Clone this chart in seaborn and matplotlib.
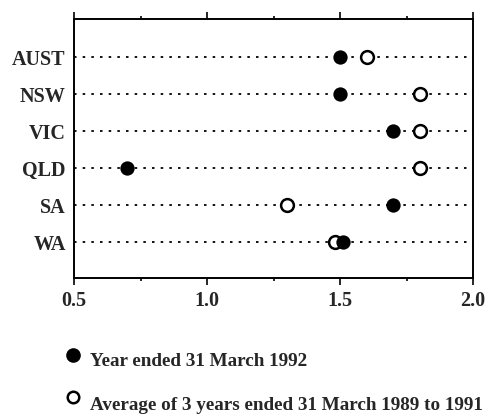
import matplotlib
matplotlib.use("Agg")
import matplotlib.pyplot as plt
from matplotlib.lines import Line2D
from matplotlib.ticker import MultipleLocator
import seaborn as sns
import pandas as pd

states = ["AUST", "NSW", "VIC", "QLD", "SA", "WA"]
year_1992 = [1.5, 1.5, 1.7, 0.7, 1.7, 1.51]
avg_89_91 = [1.6, 1.8, 1.8, 1.8, 1.3, 1.48]
label_1992 = "Year ended 31 March 1992"
label_avg = "Average of 3 years ended 31 March 1989 to 1991"
xticks = [0.5, 1.0, 1.5, 2.0]

sns.set_theme(style="white")
plt.rcParams["font.family"] = ["Liberation Serif", "DejaVu Serif"]
plt.rcParams["font.weight"] = "bold"

df = pd.DataFrame({"state": states, "y1992": year_1992, "avg": avg_89_91})

W, H = 488, 415
fig = plt.figure(figsize=(W / 100, H / 100), dpi=100)
ax = fig.add_axes([74 / W, 1 - 278 / H, (473 - 74) / W, (278 - 19) / H])

# dotted guide lines
ax.hlines(range(len(states)), 0.5, 2.0, colors="black", linestyles=(0, (1.4, 3.4)),
          linewidth=1.3, zorder=1)

sns.stripplot(data=df, x="avg", y="state", order=states, jitter=False, ax=ax,
              color="white", edgecolor="black", linewidth=1.8, size=9.2, zorder=3)
sns.stripplot(data=df, x="y1992", y="state", order=states, jitter=False, ax=ax,
              color="black", edgecolor="black", linewidth=0, size=10.3, zorder=4)

ax.set_xlim(0.5, 2.0)
ax.set_ylim(len(states) - 1 + 0.97, -1.03)
ax.set_xlabel("")
ax.set_ylabel("")
ax.set_xticks(xticks)
ax.set_xticklabels([f"{v:.1f}" for v in xticks], fontsize=14.5, fontweight="bold")
ax.xaxis.set_minor_locator(MultipleLocator(0.25))
ax.tick_params(axis="x", which="both", direction="out", top=True, bottom=True,
               color="black", width=1.2, pad=4)
ax.tick_params(axis="x", which="major", length=5)
ax.tick_params(axis="x", which="minor", length=2.2)
ax.tick_params(axis="y", length=0, pad=6)
for lab in ax.get_yticklabels():
    lab.set_fontsize(14.5)
    lab.set_fontweight("bold")
for sp in ax.spines.values():
    sp.set_color("black")
    sp.set_linewidth(1.4)

# legend below the plot
fig.add_artist(Line2D([73 / W], [1 - 355 / H], marker="o", linestyle="none",
                      markerfacecolor="black", markeredgecolor="black",
                      markersize=9.5, transform=fig.transFigure))
fig.add_artist(Line2D([73 / W], [1 - 397 / H], marker="o", linestyle="none",
                      markerfacecolor="white", markeredgecolor="black",
                      markeredgewidth=1.8, markersize=8.3, transform=fig.transFigure))
fig.text(90 / W, 1 - 361 / H, label_1992, ha="left", va="center",
         fontsize=13.8, fontweight="bold")
fig.text(90 / W, 1 - 405 / H, label_avg, ha="left", va="center",
         fontsize=13.8, fontweight="bold")

fig.savefig("out.png", dpi=100, facecolor="white")
